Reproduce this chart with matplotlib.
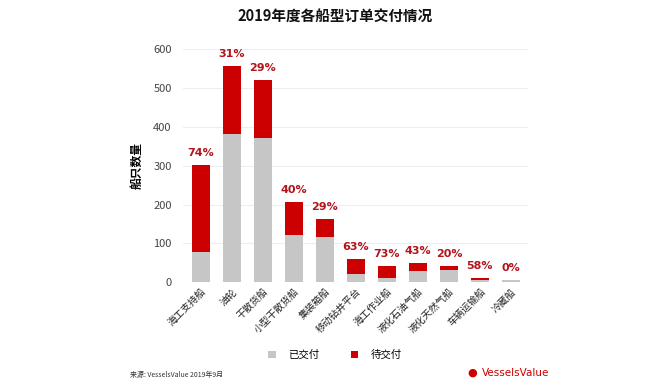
import numpy as np
import matplotlib
matplotlib.use('Agg')
import matplotlib.pyplot as plt

plt.rcParams['font.family'] = ['Noto Sans CJK SC', 'DejaVu Sans']

categories = ["海工支持船", "油轮", "干散货船", "小型干散货船", "集装箱船", "移动钻井平台",
              "海工作业船", "液化石油气船", "液化天然气船", "车辆运输船", "冷藏船"]
delivered = [78, 381, 371, 123, 116, 22, 11, 29, 33, 5, 5]
pending = [224, 175, 150, 84, 48, 38, 30, 22, 8, 7, 0]
pct_labels = ["74%", "31%", "29%", "40%", "29%", "63%", "73%", "43%", "20%", "58%", "0%"]

GRAY = "#c6c6c6"
RED = "#cc0000"
LABEL_RED = "#b3141b"

fig = plt.figure(figsize=(6.7, 3.8), dpi=100)
ax = fig.add_axes([0.273, 0.257, 0.515, 0.614])

x = np.arange(len(categories))
ax.bar(x, delivered, width=0.59, color=GRAY, label="已交付", zorder=3)
ax.bar(x, pending, width=0.59, bottom=delivered, color=RED, label="待交付", zorder=3)

totals = np.array(delivered) + np.array(pending)
for xi, t, lab in zip(x, totals, pct_labels):
    ax.text(xi, t + 18, lab, ha='center', va='bottom', color=LABEL_RED,
            fontsize=8, fontweight='bold', family='DejaVu Sans', clip_on=False)

ax.set_xlim(-0.58, 10.55)
ax.set_ylim(0, 600)
ax.set_yticks([0, 100, 200, 300, 400, 500, 600])
ax.grid(axis='y', color='#eeeeee', linewidth=0.8, zorder=0)
for s in ax.spines.values():
    s.set_visible(False)
ax.tick_params(axis='y', length=0, labelsize=8, labelcolor='#444444', pad=8)
ax.tick_params(axis='x', length=0, pad=3)
ax.set_xticks(x)
ax.set_xticklabels(categories, rotation=45, ha='right', rotation_mode='anchor',
                   fontsize=7, color='#222222')

ax.set_ylabel("船只数量", fontsize=8.5, fontweight='bold', labelpad=7)

fig.text(0.5, 0.955, "2019年度各船型订单交付情况", ha='center', va='center',
         fontsize=10.5, fontweight='bold', color='#111111')

fig.legend(loc='center', bbox_to_anchor=(0.5, 0.066), ncol=2, frameon=False,
           fontsize=7.5, handlelength=0.7, handleheight=0.7, columnspacing=3.0,
           handletextpad=1.2)

fig.text(0.194, 0.003, "来源: VesselsValue 2019年9月", ha='left', va='bottom',
         fontsize=5, color='#333333')
fig.text(0.697, 0.005, "●", ha='left', va='bottom', fontsize=8, color=RED,
         family='DejaVu Sans')
fig.text(0.719, 0.005, "VesselsValue", ha='left', va='bottom', fontsize=7.5,
         color=RED, family='DejaVu Sans')

fig.savefig("out.png", dpi=100)
